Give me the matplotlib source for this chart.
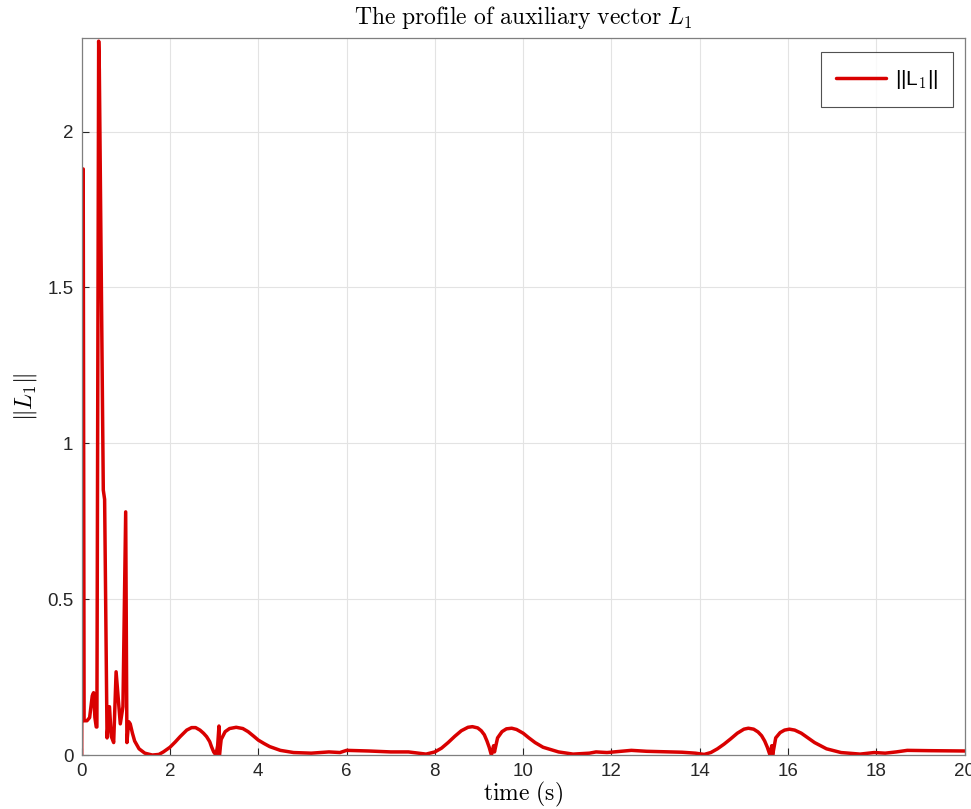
import matplotlib
matplotlib.use("Agg")
import matplotlib.pyplot as plt

plt.rcParams["mathtext.fontset"] = "cm"
plt.rcParams["font.family"] = ["Liberation Sans", "DejaVu Sans"]

# ||L1|| samples over time (s)
time_s = [
    0.00, 0.035, 0.055, 0.12, 0.18, 0.24, 0.27, 0.30, 0.33, 0.345,
    0.385, 0.40, 0.49, 0.52, 0.575, 0.63, 0.67, 0.725, 0.78, 0.875,
    0.935, 0.997, 1.025, 1.065, 1.10, 1.15, 1.20, 1.30, 1.43, 1.60,
    1.75, 1.85, 2.00, 2.12, 2.23, 2.38, 2.49, 2.58, 2.68, 2.76,
    2.83, 2.90, 2.94, 2.99, 3.04, 3.08, 3.11, 3.12, 3.16, 3.25,
    3.35, 3.50, 3.65, 3.77, 3.90, 4.00, 4.13, 4.26, 4.50, 4.80,
    5.20, 5.60, 5.85, 6.00, 6.50, 7.00, 7.40, 7.80, 8.00, 8.15,
    8.30, 8.45, 8.60, 8.75, 8.85, 8.97, 9.05, 9.12, 9.18, 9.23,
    9.28, 9.33, 9.35, 9.42, 9.52, 9.62, 9.74, 9.85, 10.00, 10.13,
    10.27, 10.45, 10.80, 11.13, 11.50, 11.65, 11.90, 12.45, 12.80, 13.60,
    13.90, 14.10, 14.25, 14.40, 14.55, 14.70, 14.85, 15.00, 15.10, 15.22,
    15.32, 15.40, 15.47, 15.53, 15.59, 15.63, 15.65, 15.72, 15.82, 15.92,
    16.03, 16.15, 16.30, 16.45, 16.60, 16.87, 17.20, 17.63, 17.95, 18.20,
    18.45, 18.70, 19.20, 20.00,
]
norm_L1 = [
    0.00, 1.88, 0.11, 0.11, 0.12, 0.19, 0.20, 0.12, 0.09, 0.09,
    2.29, 2.20, 0.85, 0.82, 0.055, 0.155, 0.06, 0.04, 0.267, 0.10,
    0.155, 0.78, 0.04, 0.107, 0.10, 0.07, 0.045, 0.02, 0.006, 0.00,
    0.002, 0.01, 0.025, 0.042, 0.059, 0.080, 0.088, 0.088, 0.080, 0.070,
    0.059, 0.043, 0.027, 0.010, 0.00, 0.03, 0.093, 0.00, 0.05, 0.075,
    0.085, 0.089, 0.085, 0.075, 0.060, 0.048, 0.037, 0.027, 0.015, 0.008,
    0.006, 0.01, 0.008, 0.015, 0.013, 0.01, 0.01, 0.003, 0.01, 0.022,
    0.040, 0.060, 0.078, 0.089, 0.091, 0.087, 0.078, 0.065, 0.045, 0.025,
    0.00, 0.03, 0.01, 0.055, 0.075, 0.084, 0.086, 0.082, 0.07, 0.055,
    0.040, 0.025, 0.01, 0.003, 0.006, 0.01, 0.008, 0.015, 0.012, 0.009,
    0.006, 0.002, 0.008, 0.020, 0.035, 0.052, 0.070, 0.083, 0.086, 0.083,
    0.074, 0.062, 0.045, 0.025, 0.00, 0.03, 0.00, 0.055, 0.072, 0.080,
    0.083, 0.080, 0.070, 0.055, 0.040, 0.02, 0.008, 0.003, 0.008, 0.006,
    0.01, 0.015, 0.014, 0.013,
]

x_ticks = [0, 2, 4, 6, 8, 10, 12, 14, 16, 18, 20]
y_ticks = [0, 0.5, 1, 1.5, 2]
y_tick_labels = ["0", "0.5", "1", "1.5", "2"]

fig = plt.figure(figsize=(9.71, 8.09), dpi=100)
ax = fig.add_axes([0.0841, 0.0667, 0.9094, 0.8863])

ax.plot(time_s, norm_L1, color="#d90000", lw=2.5, solid_joinstyle="round",
        solid_capstyle="round", label=r"||L$_\mathsf{1}$||")

ax.set_xlim(0, 20)
ax.set_ylim(0, 2.3)
ax.set_xticks(x_ticks)
ax.set_yticks(y_ticks)
ax.set_yticklabels(y_tick_labels)
ax.tick_params(direction="in", length=5, width=0.8, colors="#262626",
               labelsize=13.5, pad=6, top=False, right=False)
ax.grid(True, color="#e3e3e3", lw=0.8)
ax.set_axisbelow(True)
for sp in ax.spines.values():
    sp.set_color("#7f7f7f")
    sp.set_linewidth(0.9)

ax.set_title(r"$\mathrm{The\ profile\ of\ auxiliary\ vector}\ L_1$",
             fontsize=17, pad=10)
ax.set_xlabel(r"$\mathrm{time\ (s)}$", fontsize=17, labelpad=0)
ax.set_ylabel(r"$\|L_1\|$", fontsize=17, labelpad=6)

leg = ax.legend(loc="upper right", fontsize=15, frameon=True, fancybox=False,
                handlelength=2.4, borderpad=0.75, handletextpad=0.4,
                borderaxespad=0.0, bbox_to_anchor=(0.987, 0.980))
leg.get_frame().set_edgecolor("#262626")
leg.get_frame().set_linewidth(0.8)

fig.savefig("out.png", dpi=100, facecolor="white")
